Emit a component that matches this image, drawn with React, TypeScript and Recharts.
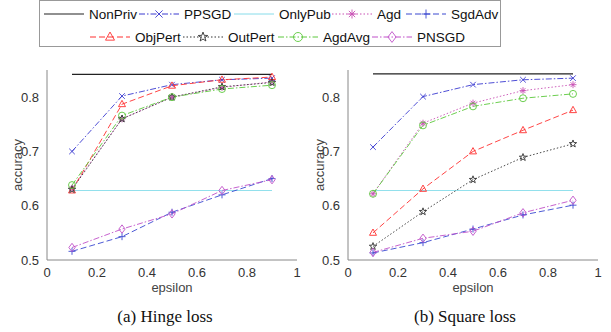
import React from 'react';
import { LineChart, Line, XAxis, YAxis } from 'recharts';

const epsilons = [0.1, 0.3, 0.5, 0.7, 0.9];

// hinge loss
const hNonPriv = [0.842, 0.842, 0.842, 0.842, 0.842];
const hPPSGD = [0.7, 0.802, 0.823, 0.832, 0.835];
const hOnlyPub = [0.628, 0.628, 0.628, 0.628, 0.628];
const hAgd = [0.632, 0.76, 0.8, 0.818, 0.828];
const hSgdAdv = [0.516, 0.543, 0.588, 0.62, 0.65];
const hObjPert = [0.628, 0.787, 0.821, 0.832, 0.837];
const hOutPert = [0.63, 0.76, 0.8, 0.819, 0.827];
const hAgdAvg = [0.638, 0.766, 0.8, 0.815, 0.822];
const hPNSGD = [0.523, 0.557, 0.585, 0.628, 0.648];

// square loss
const sNonPriv = [0.843, 0.843, 0.843, 0.843, 0.843];
const sPPSGD = [0.708, 0.801, 0.823, 0.832, 0.835];
const sOnlyPub = [0.628, 0.628, 0.628, 0.628, 0.628];
const sAgd = [0.622, 0.752, 0.789, 0.812, 0.823];
const sSgdAdv = [0.513, 0.532, 0.557, 0.583, 0.601];
const sObjPert = [0.55, 0.631, 0.7, 0.739, 0.776];
const sOutPert = [0.525, 0.589, 0.648, 0.689, 0.714];
const sAgdAvg = [0.622, 0.748, 0.783, 0.798, 0.806];
const sPNSGD = [0.514, 0.54, 0.553, 0.587, 0.61];

const xTicks = [0, 0.2, 0.4, 0.6, 0.8, 1];
const yTicks = [0.5, 0.6, 0.7, 0.8];

type Series = { key: string; name: string; color: string; dash?: string; marker?: string; width?: number };

const series: Series[] = [
  { key: 'NonPriv', name: 'NonPriv', color: '#222222', width: 1.2 },
  { key: 'PPSGD', name: 'PPSGD', color: '#3a3ad0', dash: '6 2 1.5 2', marker: 'x' },
  { key: 'OnlyPub', name: 'OnlyPub', color: '#86dcea' },
  { key: 'Agd', name: 'Agd', color: '#c850b4', dash: '1.5 2', marker: 'star6' },
  { key: 'SgdAdv', name: 'SgdAdv', color: '#3a48d0', dash: '6 3', marker: 'plus' },
  { key: 'ObjPert', name: 'ObjPert', color: '#ff3030', dash: '6 3', marker: 'tri' },
  { key: 'OutPert', name: 'OutPert', color: '#333333', dash: '1.5 2', marker: 'star' },
  { key: 'AgdAvg', name: 'AgdAvg', color: '#5cc83c', dash: '6 2 1.5 2', marker: 'circle' },
  { key: 'PNSGD', name: 'PNSGD', color: '#c050c8', dash: '6 2 1.5 2', marker: 'diamond' },
];

const build = (vals: Record<string, number[]>) =>
  epsilons.map((e, i) => {
    const row: Record<string, number> = { eps: e };
    Object.keys(vals).forEach((k) => (row[k] = vals[k][i]));
    return row;
  });

const hingeData = build({
  NonPriv: hNonPriv, PPSGD: hPPSGD, OnlyPub: hOnlyPub, Agd: hAgd, SgdAdv: hSgdAdv,
  ObjPert: hObjPert, OutPert: hOutPert, AgdAvg: hAgdAvg, PNSGD: hPNSGD,
});
const squareData = build({
  NonPriv: sNonPriv, PPSGD: sPPSGD, OnlyPub: sOnlyPub, Agd: sAgd, SgdAdv: sSgdAdv,
  ObjPert: sObjPert, OutPert: sOutPert, AgdAvg: sAgdAvg, PNSGD: sPNSGD,
});

function Marker({ type, cx, cy, color, s = 3.5 }: { type?: string; cx: number; cy: number; color: string; s?: number }) {
  if (!type) return null;
  const sw = 0.9;
  switch (type) {
    case 'x':
      return (
        <g stroke={color} strokeWidth={sw}>
          <line x1={cx - s * 0.8} y1={cy - s * 0.8} x2={cx + s * 0.8} y2={cy + s * 0.8} />
          <line x1={cx - s * 0.8} y1={cy + s * 0.8} x2={cx + s * 0.8} y2={cy - s * 0.8} />
        </g>
      );
    case 'plus':
      return (
        <g stroke={color} strokeWidth={sw}>
          <line x1={cx - s} y1={cy} x2={cx + s} y2={cy} />
          <line x1={cx} y1={cy - s} x2={cx} y2={cy + s} />
        </g>
      );
    case 'star6':
      return (
        <g stroke={color} strokeWidth={sw}>
          <line x1={cx - s} y1={cy} x2={cx + s} y2={cy} />
          <line x1={cx} y1={cy - s} x2={cx} y2={cy + s} />
          <line x1={cx - s * 0.7} y1={cy - s * 0.7} x2={cx + s * 0.7} y2={cy + s * 0.7} />
          <line x1={cx - s * 0.7} y1={cy + s * 0.7} x2={cx + s * 0.7} y2={cy - s * 0.7} />
        </g>
      );
    case 'tri':
      return (
        <polygon
          points={`${cx},${cy - s * 1.1} ${cx - s},${cy + s * 0.7} ${cx + s},${cy + s * 0.7}`}
          fill="none" stroke={color} strokeWidth={sw}
        />
      );
    case 'circle':
      return <circle cx={cx} cy={cy} r={s} fill="none" stroke={color} strokeWidth={sw} />;
    case 'diamond':
      return (
        <polygon
          points={`${cx},${cy - s * 1.2} ${cx + s * 0.9},${cy} ${cx},${cy + s * 1.2} ${cx - s * 0.9},${cy}`}
          fill="none" stroke={color} strokeWidth={sw}
        />
      );
    case 'star': {
      const pts: string[] = [];
      for (let i = 0; i < 10; i++) {
        const r = i % 2 === 0 ? s * 1.1 : s * 0.45;
        const a = -Math.PI / 2 + (i * Math.PI) / 5;
        pts.push(`${cx + r * Math.cos(a)},${cy + r * Math.sin(a)}`);
      }
      return <polygon points={pts.join(' ')} fill="none" stroke={color} strokeWidth={sw} />;
    }
  }
  return null;
}

const tickStyle = { fontFamily: 'Liberation Sans, Arial, sans-serif', fontSize: 13, fill: '#333' };

function Panel({ data, width, left, right, labelDx }: { data: Record<string, number>[]; width: number; left: number; right: number; labelDx: number }) {
  return (
    <LineChart width={width} height={300} data={data} margin={{ top: 70, right, bottom: 10, left }}>
      <XAxis
        dataKey="eps" type="number" domain={[0, 1]} ticks={xTicks} height={30}
        tick={tickStyle} tickLine={false} stroke="#888"
        tickFormatter={(v: number) => String(v)}
        label={{ value: 'epsilon', position: 'insideBottom', offset: -2, style: { ...tickStyle, fill: '#444' } }}
      />
      <YAxis
        type="number" domain={[0.5, 0.85]} ticks={yTicks} width={40} allowDataOverflow
        tick={tickStyle} tickLine={false} stroke="#888"
        tickFormatter={(v: number) => String(v)}
        label={{ value: 'accuracy', angle: -90, position: 'insideLeft', offset: 0, dx: labelDx, style: { ...tickStyle, fill: '#444', textAnchor: 'middle' } }}
      />
      {series.map((s) => (
        <Line
          key={s.key}
          dataKey={s.key}
          stroke={s.color}
          strokeWidth={s.width ?? 0.9}
          strokeDasharray={s.dash}
          isAnimationActive={false}
          activeDot={false}
          dot={(p: any) => <Marker key={`${s.key}-${p.index}`} type={s.marker} cx={p.cx} cy={p.cy} color={s.color} />}
        />
      ))}
    </LineChart>
  );
}

const legendRow1 = ['NonPriv', 'PPSGD', 'OnlyPub', 'Agd', 'SgdAdv'];
const legendRow2 = ['ObjPert', 'OutPert', 'AgdAvg', 'PNSGD'];
const row1X = [44, 139, 234, 332, 406];
const row2X = [90, 183, 278, 372];

function LegendBox() {
  const item = (k: string, x: number, y: number) => {
    const s = series.find((q) => q.key === k)!;
    return (
      <g key={k}>
        <line x1={x} y1={y} x2={x + 40} y2={y} stroke={s.color} strokeWidth={s.width ?? 1} strokeDasharray={s.dash} />
        <Marker type={s.marker} cx={x + 20} cy={y} color={s.color} s={4.5} />
        <text x={x + 45} y={y + 5} style={{ ...tickStyle, fill: '#111', fontSize: 13.5 }}>{s.name}</text>
      </g>
    );
  };
  return (
    <svg width={611} height={50} style={{ position: 'absolute', left: 0, top: 0 }}>
      <rect x={39.5} y={0.5} width={461} height={46} fill="#fff" stroke="#999" />
      {legendRow1.map((k, i) => item(k, row1X[i], 14))}
      {legendRow2.map((k, i) => item(k, row2X[i], 37))}
    </svg>
  );
}

const captionStyle: React.CSSProperties = {
  position: 'absolute', top: 307, fontFamily: 'Liberation Serif, Times New Roman, serif', fontSize: 17, color: '#111',
  textAlign: 'center', width: 200,
};

export default function App() {
  return (
    <div style={{ position: 'absolute', left: 0, top: 0, width: 611, height: 332, background: '#fff', overflow: 'hidden' }}>
      <div style={{ position: 'absolute', left: 0, top: 0 }}>
        <Panel data={hingeData} width={305} left={7} right={8} labelDx={10} />
      </div>
      <div style={{ position: 'absolute', left: 305, top: 0 }}>
        <Panel data={squareData} width={306} left={3} right={13} labelDx={11} />
      </div>
      <LegendBox />
      <div style={{ ...captionStyle, left: 65 }}>(a) Hinge loss</div>
      <div style={{ ...captionStyle, left: 365 }}>(b) Square loss</div>
    </div>
  );
}
